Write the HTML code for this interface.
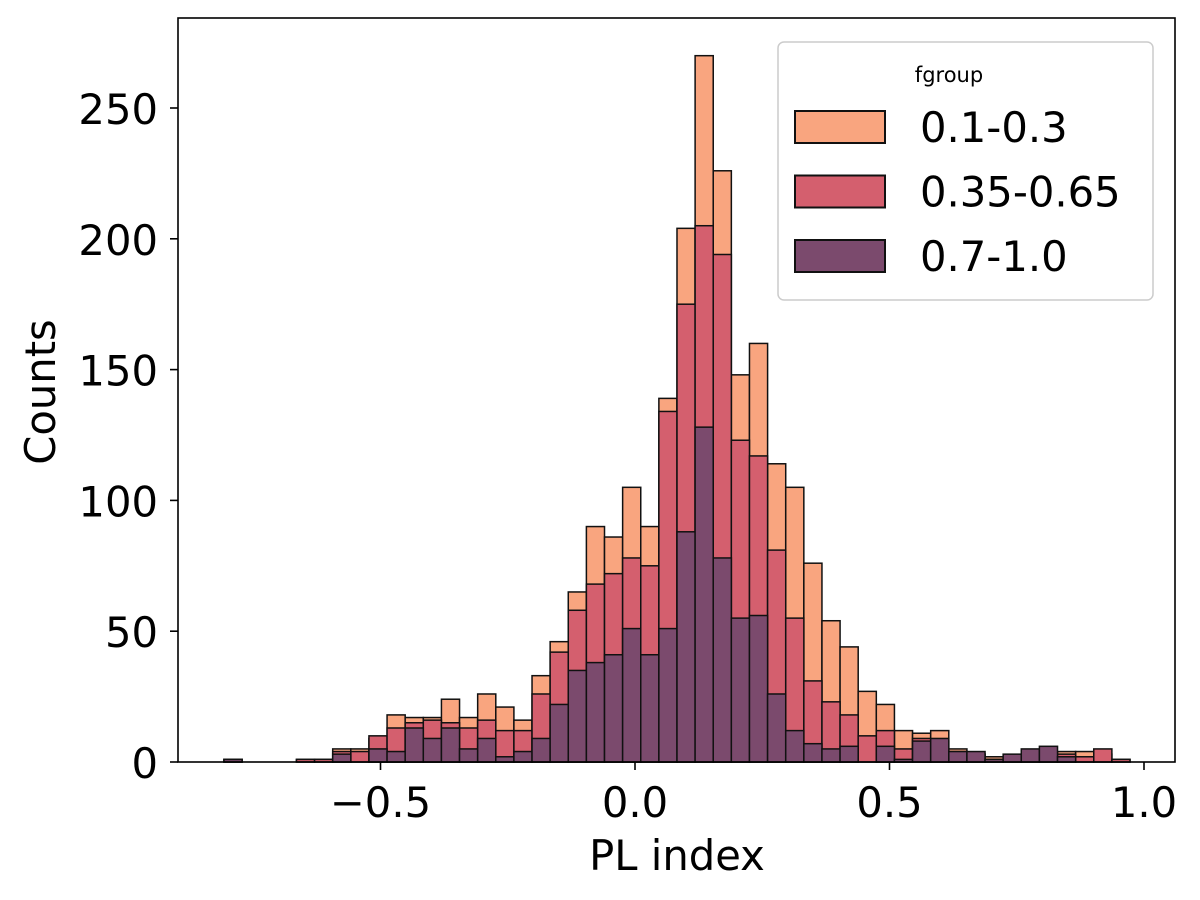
<!DOCTYPE html>
<html><head><meta charset="utf-8"><style>
body{margin:0;background:#fff}
svg{display:block;font-family:"DejaVu Sans","Liberation Sans",sans-serif}
</style></head><body>
<svg id="chart" width="1200" height="900">
<rect width="1200" height="900" fill="#fff"/>
<g id="bars"></g>
<g id="axes"></g>
</svg>
<script>
const binStart = -0.8075;
const binWidth = 0.0356;
const orange = [1,0,0,0,1,1,5,5,9,18,17,17,24,17,26,21,16,33,46,65,90,86,105,90,139,204,270,226,148,160,114,105,76,54,44,27,22,12,11,12,5,3,2,1,1,1,4,4,3,1];
const red =    [1,0,0,0,1,1,4,4,10,13,15,16,15,13,16,12,12,26,42,58,68,72,78,75,134,175,205,194,123,117,81,55,31,23,18,10,12,5,9,8,4,3,1,1,1,1,3,2,5,1];
const purple = [1,0,0,0,0,0,3,0,5,4,13,9,13,5,9,2,4,9,22,35,38,41,51,41,51,88,128,78,55,56,26,12,7,5,6,0,6,1,8,9,4,4,1,3,5,6,2,0,0,0];
const yTicks = [0,50,100,150,200,250];
const xTicks = [-0.5,0.0,0.5,1.0];
const xTickLabels = ["\u22120.5","0.0","0.5","1.0"];
const series = [["0.1-0.3",orange,"#f9a57f"],["0.35-0.65",red,"#d45f6e"],["0.7-1.0",purple,"#7b4a6d"]];

const L=178,R=1175,T=18,B=762;
const xs=v=>635+v*509;
const ys=v=>B-v*2.616;
const NS="http://www.w3.org/2000/svg";
function mk(tag,attrs,parent,text){const e=document.createElementNS(NS,tag);for(const k in attrs)e.setAttribute(k,attrs[k]);if(text!==undefined)e.textContent=text;parent.appendChild(e);return e;}
const bars=document.getElementById('bars'), axes=document.getElementById('axes');
series.forEach((s,si)=>{
  s[1].forEach((v,i)=>{
    if(v<=0)return;
    const x0=xs(binStart+i*binWidth),x1=xs(binStart+(i+1)*binWidth);
    const r=mk('rect',{x:x0,y:ys(v),width:x1-x0,height:B-ys(v),fill:s[2],stroke:'#111','stroke-width':1.5},bars);
    
    
  });
});
const frame=mk('rect',{x:L,y:T,width:R-L,height:B-T,fill:'none',stroke:'#000','stroke-width':1.6},axes);


yTicks.forEach(t=>{
  const y=ys(t);
  mk('line',{x1:L-8,x2:L,y1:y,y2:y,stroke:'#000','stroke-width':1.6},axes);
  const tx=mk('text',{x:L-20,y:y+16,'text-anchor':'end','font-size':41.7},axes,String(t));
  
  
});
xTicks.forEach((t,i)=>{
  const x=xs(t);
  mk('line',{x1:x,x2:x,y1:B,y2:B+8,stroke:'#000','stroke-width':1.6},axes);
  const tx=mk('text',{x:x,y:B+55,'text-anchor':'middle','font-size':41.7},axes,xTickLabels[i]);
  
  
});
const xt=mk('text',{x:677,y:870,'text-anchor':'middle','font-size':41.7},axes,'PL index');


const yt=mk('text',{x:0,y:0,'text-anchor':'middle','font-size':41.7,transform:'translate(55,392) rotate(-90)'},axes,'Counts');


const lg=mk('g',{},axes);


mk('rect',{x:778,y:42,width:375,height:258,rx:6,fill:'#fff','fill-opacity':0.8,stroke:'#ccc','stroke-width':1.5},lg);
mk('text',{x:949,y:82,'text-anchor':'middle','font-size':21},lg,'fgroup');
series.forEach((s,i)=>{
  const y=111+i*64.5;
  const p=mk('rect',{x:795,y:y,width:90,height:32,fill:s[2],stroke:'#111','stroke-width':2},lg);
  
  
  const t=mk('text',{x:920,y:y+31,'font-size':41.7},lg,s[0]);
  
  
});
</script>
</body></html>
